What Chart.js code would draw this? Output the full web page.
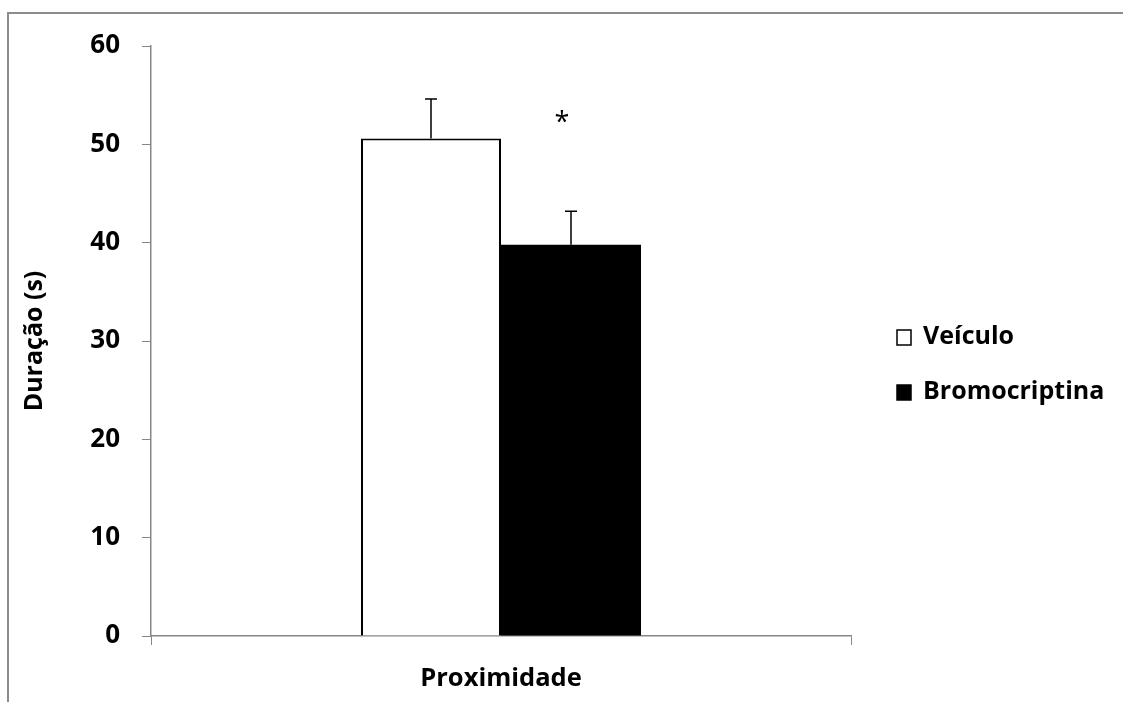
<!DOCTYPE html>
<html>
<head>
<meta charset="utf-8">
<script src="https://cdn.jsdelivr.net/npm/chart.js@4.4.1/dist/chart.umd.min.js"></script>
<style>
  html,body{margin:0;padding:0;background:#fff;}
  #wrap{width:1123px;height:702px;position:relative;}
</style>
</head>
<body>
<div id="wrap"><canvas id="c" width="1123" height="702"></canvas></div>
<script>
const categories = ['Proximidade'];
const seriesNames = ['Veículo', 'Bromocriptina'];
const veiculo = [50.6];
const bromocriptina = [39.8];
const veiculoErr = [4.0];
const bromocriptinaErr = [3.4];
const significance = ['', '*'];
const yMin = 0, yMax = 60, yStep = 10;

const FONT = "'Open Sans', sans-serif";
const GRAY = '#878787';

const errorBars = {
  id: 'errorBars',
  afterDatasetsDraw(chart) {
    const ctx = chart.ctx;
    const y = chart.scales.y;
    const errs = [veiculoErr, bromocriptinaErr];
    ctx.save();
    ctx.strokeStyle = '#000';
    ctx.lineWidth = 1.5;
    chart.data.datasets.forEach((ds, di) => {
      const meta = chart.getDatasetMeta(di);
      meta.data.forEach((bar, i) => {
        const v = ds.data[i], e = errs[di][i];
        const yTop = y.getPixelForValue(v + e);
        const yBase = y.getPixelForValue(v);
        ctx.beginPath();
        ctx.moveTo(bar.x, yBase);
        ctx.lineTo(bar.x, yTop);
        ctx.moveTo(bar.x - 6, yTop);
        ctx.lineTo(bar.x + 6, yTop);
        ctx.stroke();
        if (significance[di]) {
          ctx.fillStyle = '#000';
          ctx.font = "27px " + FONT;
          ctx.textAlign = 'center';
          ctx.textBaseline = 'middle';
          ctx.fillText(significance[di], bar.x - 9, yTop - 88);
        }
      });
    });
    ctx.restore();
  }
};

const frameAndLegend = {
  id: 'frameAndLegend',
  beforeDraw(chart) {
    const ctx = chart.ctx;
    ctx.save();
    ctx.fillStyle = '#fff';
    ctx.fillRect(0, 0, chart.width, chart.height);
    ctx.strokeStyle = '#8c8c8c';
    ctx.lineWidth = 2;
    ctx.beginPath();
    ctx.moveTo(8, chart.height);
    ctx.lineTo(8, 13);
    ctx.lineTo(chart.width, 13);
    ctx.stroke();
    ctx.restore();
  },
  afterDraw(chart) {
    const ctx = chart.ctx;
    const area = chart.chartArea;
    ctx.save();
    ctx.font = "bold 25px " + FONT;
    ctx.textBaseline = 'middle';
    ctx.textAlign = 'left';
    const x0 = area.right + 46;
    const ys = [337, 392];
    chart.data.datasets.forEach((ds, i) => {
      const yy = ys[i];
      ctx.fillStyle = ds.backgroundColor;
      ctx.fillRect(x0, yy - 7, 14, 15);
      ctx.strokeStyle = '#000';
      ctx.lineWidth = 1.5;
      ctx.strokeRect(x0, yy - 7, 14, 15);
      ctx.fillStyle = '#000';
      ctx.fillText(ds.label, x0 + 26, yy);
    });
    ctx.restore();
  }
};

new Chart(document.getElementById('c'), {
  type: 'bar',
  data: {
    labels: categories,
    datasets: [
      { label: seriesNames[0], data: veiculo, backgroundColor: '#ffffff', borderColor: '#000', borderWidth: 2, borderSkipped: 'bottom' },
      { label: seriesNames[1], data: bromocriptina, backgroundColor: '#000000', borderColor: '#000', borderWidth: 0 }
    ]
  },
  options: {
    responsive: false,
    animation: false,
    devicePixelRatio: 1,
    layout: { padding: { top: 46, right: 272, left: 0, bottom: 0 } },
    datasets: { bar: { categoryPercentage: 0.4, barPercentage: 1.0 } },
    plugins: { legend: { display: false }, tooltip: { enabled: false } },
    scales: {
      x: {
        grid: { drawOnChartArea: false, drawTicks: true, tickLength: 9, color: GRAY, offset: true },
        border: { color: GRAY, width: 1.5 },
        ticks: { color: '#000', font: { family: FONT, size: 25.5, weight: 'bold' }, padding: 18 },
        afterFit(scale) { scale.height = 66; }
      },
      y: {
        min: yMin, max: yMax,
        grid: { drawOnChartArea: false, drawTicks: true, tickLength: 9, color: GRAY },
        border: { color: GRAY, width: 1.5 },
        ticks: { stepSize: yStep, color: '#000', font: { family: FONT, size: 26, weight: 'bold' }, padding: 22 },
        title: { display: true, text: 'Duração (s)', color: '#000', font: { family: FONT, size: 25, weight: 'bold' }, padding: { top: 20, bottom: 0 } },
        afterFit(scale) { scale.width = 151; }
      }
    }
  },
  plugins: [errorBars, frameAndLegend]
});
</script>
</body>
</html>
